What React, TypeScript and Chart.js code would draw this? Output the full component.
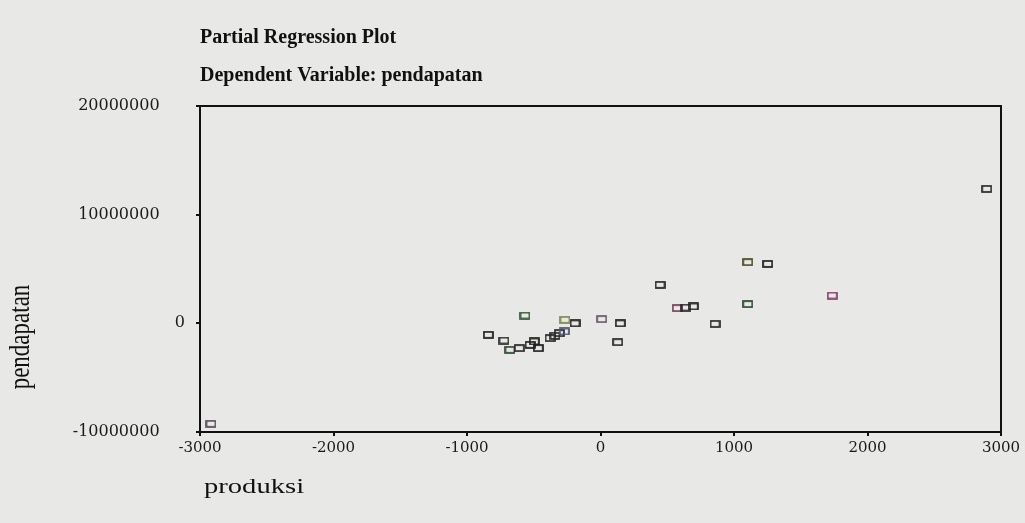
import React, { useEffect, useRef } from "react";
import { Chart, registerables } from "chart.js";

Chart.register(...registerables);

const chartTitle = "Partial Regression Plot";
const chartSubtitle = "Dependent Variable: pendapatan";
const xAxisTitle = "produksi";
const yAxisTitle = "pendapatan";

const produksi = [
  -2918, -840, -723, -678, -608, -566, -528, -496, -466, -378, -341, -308, -271, -266, -191,
  9, 148, 129, 446, 575, 640, 695, 858, 1103, 1252, 1103, 1736, 2893,
];
const pendapatan = [
  -9250000, -1060000, -1580000, -2440000, -2280000, 720000, -1980000, -1670000, -2280000,
  -1360000, -1150000, -900000, -750000, 320000, 0, 390000, 0, -1730000, 3540000, 1400000,
  1450000, 1550000, -50000, 5630000, 5470000, 1770000, 2560000, 12370000,
];
const markerColors = [
  "#5a4a5a", "#1e1e1e", "#2a2a2a", "#2a4a30", "#2a2a2a", "#2a5a26", "#1e1e1e", "#1e1e1e", "#1e1e1e",
  "#2a2a2a", "#2a2a2a", "#2a2a2a", "#4a5570", "#7a8a40", "#1e1e1e", "#6a5a6a", "#1e1e1e", "#2a2a2a", "#222",
  "#7a3a5a", "#2a2a2a", "#1e1e1e", "#2a2a2a", "#4a4a22", "#1e1e1e", "#2a4a2a", "#8a3a6a", "#2a2a2a",
];

const xTicks = [-3000, -2000, -1000, 0, 1000, 2000, 3000];
const yTicks = [-10000000, 0, 10000000, 20000000];

function makeMarker(color: string): HTMLCanvasElement {
  const c = document.createElement("canvas");
  c.width = 11;
  c.height = 8;
  const ctx = c.getContext("2d")!;
  ctx.strokeStyle = color;
  ctx.lineWidth = 1.7;
  ctx.strokeRect(1, 1, 9, 6);
  return c;
}

export default function App() {
  const ref = useRef<HTMLCanvasElement | null>(null);

  useEffect(() => {
    document.body.style.margin = "0";
    document.body.style.background = "#e8e8e6";
    const canvas = ref.current!;
    const points = produksi.map((x, i) => ({ x, y: pendapatan[i] }));
    const markers = markerColors.map(makeMarker);

    const decor = {
      id: "decor",
      afterDraw(chart: any) {
        const { ctx, chartArea } = chart;
        ctx.save();
        ctx.strokeStyle = "#111";
        ctx.lineWidth = 2;
        ctx.beginPath();
        ctx.moveTo(chartArea.left, chartArea.top);
        ctx.lineTo(chartArea.right, chartArea.top);
        ctx.lineTo(chartArea.right, chartArea.bottom);
        ctx.stroke();

        ctx.fillStyle = "#111";
        ctx.textAlign = "left";
        ctx.textBaseline = "middle";
        ctx.font = "bold 20px 'Liberation Serif'";
        ctx.fillText(chartTitle, 200, 38);
        ctx.fillText(chartSubtitle, 200, 76);

        ctx.font = "22px 'Liberation Serif'";
        ctx.save();
        ctx.translate(204, 487);
        ctx.scale(1.3, 1);
        ctx.fillText(xAxisTitle, 0, 0);
        ctx.restore();

        ctx.save();
        ctx.translate(21, 337);
        ctx.rotate(-Math.PI / 2);
        ctx.scale(1, 1.25);
        ctx.textAlign = "center";
        ctx.font = "23px 'Liberation Serif'";
        ctx.fillText(yAxisTitle, 0, 0);
        ctx.restore();
        ctx.restore();
      },
    };

    const chart = new Chart(canvas, {
      type: "scatter",
      data: {
        datasets: [
          {
            data: points,
            pointStyle: markers as any,
            pointRadius: 5,
            pointHoverRadius: 5,
          },
        ],
      },
      options: {
        animation: false,
        responsive: false,
        devicePixelRatio: 1,
        layout: { padding: { top: 106, right: 24, left: 0, bottom: 0 } },
        plugins: {
          legend: { display: false },
          tooltip: { enabled: false },
          title: { display: false },
        },
        scales: {
          x: {
            type: "linear",
            min: -3000,
            max: 3000,
            afterBuildTicks: (s: any) => {
              s.ticks = xTicks.map((v) => ({ value: v }));
            },
            afterFit: (s: any) => {
              s.height = 91;
            },
            ticks: {
              color: "#1a1a1a",
              font: { family: "'DejaVu Serif'", size: 15 },
              padding: 3,
              maxRotation: 0,
              autoSkip: false,
              callback: (v: any) => String(v),
            },
            grid: {
              display: true,
              drawOnChartArea: false,
              drawTicks: true,
              tickLength: 4,
              color: "#111",
              lineWidth: 2,
            },
            border: { display: true, color: "#111", width: 2 },
          },
          y: {
            type: "linear",
            min: -10000000,
            max: 20000000,
            afterBuildTicks: (s: any) => {
              s.ticks = yTicks.map((v) => ({ value: v }));
            },
            afterFit: (s: any) => {
              s.width = 200;
            },
            ticks: {
              color: "#1a1a1a",
              font: { family: "'DejaVu Serif'", size: 16 },
              padding: 11,
              autoSkip: false,
              callback: (v: any) => (v === 0 ? "0" : String(v) + "     "),
            },
            grid: {
              display: true,
              drawOnChartArea: false,
              drawTicks: true,
              tickLength: 4,
              color: "#111",
              lineWidth: 2,
            },
            border: { display: true, color: "#111", width: 2 },
          },
        },
      },
      plugins: [decor],
    });
    return () => chart.destroy();
  }, []);

  return (
    <div style={{ position: "fixed", left: 0, top: 0, width: 1025, height: 523, background: "#e8e8e6" }}>
      <canvas ref={ref} width={1025} height={523} style={{ display: "block" }} />
    </div>
  );
}
